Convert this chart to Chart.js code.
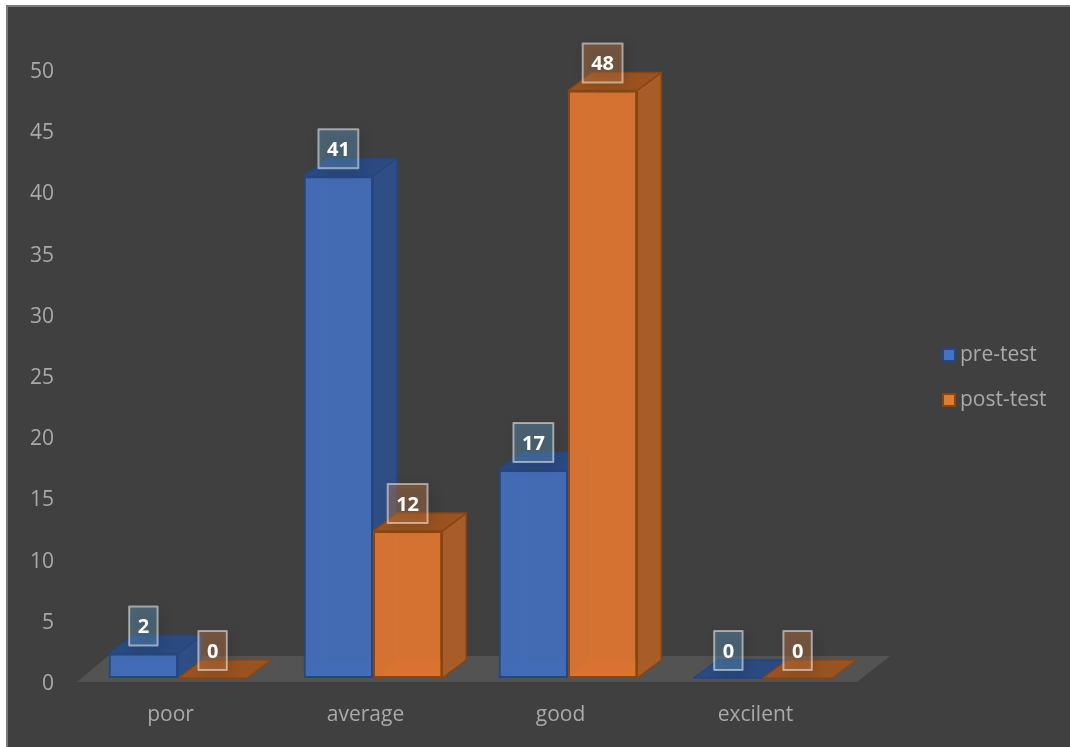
<!DOCTYPE html>
<html>
<head>
<meta charset="utf-8">
<script src="https://cdn.jsdelivr.net/npm/chart.js@4"></script>
<style>
html,body{margin:0;padding:0;background:#fff;overflow:hidden}
canvas{display:block}
</style>
</head>
<body>
<canvas id="chart" width="1070" height="747"></canvas>
<script>
const categories = ['poor', 'average', 'good', 'excilent'];
const preTest = [2, 41, 17, 0];
const postTest = [0, 12, 48, 0];

const TEXT = '#a9a9a9';
const FONT = '"Open Sans", sans-serif';
// Oblique depth of the pseudo-3D boxes and their shift from the axis frame.
const DEPTH_X = 24, DEPTH_Y = -18, SHIFT_X = 7.5, SHIFT_Y = -6;

const looks = [
  { front: 'rgba(66,108,184,0.97)', edge: '#254781', side: '#2f4e86', top: '#2b4a82', inner: '#3a62a8',
    swatch: '#4472c4', boxFill: 'rgba(96,150,190,0.42)' },
  { front: 'rgba(218,116,50,0.97)', edge: '#8a4510', side: '#a85c28', top: '#9a5320', inner: '#cc6e2c',
    swatch: '#e27a30', boxFill: 'rgba(190,120,70,0.42)' }
];

function poly(ctx, pts, fill, stroke, lw) {
  ctx.beginPath();
  pts.forEach((p, i) => i ? ctx.lineTo(p[0], p[1]) : ctx.moveTo(p[0], p[1]));
  ctx.closePath();
  if (fill) { ctx.fillStyle = fill; ctx.fill(); }
  if (stroke) { ctx.strokeStyle = stroke; ctx.lineWidth = lw || 2; ctx.lineJoin = 'round'; ctx.stroke(); }
}

// Small framed square used as the legend key.
function keySwatch(look) {
  const c = document.createElement('canvas');
  c.width = 14; c.height = 14;
  const g = c.getContext('2d');
  g.fillStyle = look.edge;
  g.fillRect(0, 0, 14, 14);
  g.fillStyle = look.swatch;
  g.fillRect(2, 2, 10, 10);
  return c;
}
const swatches = looks.map(keySwatch);

const depthBoxes = {
  id: 'depthBoxes',
  beforeLayout(chart) {
    const legend = chart.legend;
    if (legend && !legend.__sized) {
      const fit = legend.fit;
      legend.fit = function () { fit.call(this); this.width = 217; };
      legend.__sized = true;
    }
  },
  afterLayout(chart) {
    chart.legend.left = 924.5;
    chart.legend.top = 8;
    chart.legend.bottom = 747;
  },
  beforeDraw(chart) {
    const ctx = chart.ctx;
    ctx.save();
    ctx.fillStyle = '#fff';
    ctx.fillRect(0, 0, 1070, 747);
    ctx.fillStyle = '#404040';
    ctx.fillRect(6, 5, 1064, 742);
    ctx.fillStyle = '#7a7a7a';
    ctx.fillRect(6, 5, 1064, 2);
    ctx.fillRect(6, 5, 2, 742);
    ctx.restore();
  },
  beforeDatasetsDraw(chart) {
    const ctx = chart.ctx;
    const { left, right } = chart.chartArea;
    const baseY = chart.scales.y.getPixelForValue(0);
    ctx.save();
    ctx.translate(SHIFT_X, SHIFT_Y);
    // Floor plate under all boxes
    poly(ctx, [
      [left - 3.5, baseY + 4], [right - 3.5, baseY + 4],
      [right + 29.5, baseY - 22], [left + 27.5, baseY - 22]
    ], '#545353');
    categories.forEach((_, c) => {
      [0, 1].forEach(s => {
        const bar = chart.getDatasetMeta(s).data[c];
        const look = looks[s];
        const x0 = bar.x - bar.width / 2, x1 = bar.x + bar.width / 2;
        const yT = bar.y, yB = bar.base;
        // Hidden back edges, seen faintly through the front face
        poly(ctx, [[x0, yB], [x1, yB], [x1 + DEPTH_X, yB + DEPTH_Y], [x0 + DEPTH_X, yB + DEPTH_Y]], look.inner);
        if (yB - yT > 1) {
          ctx.strokeStyle = look.inner;
          ctx.lineWidth = 1;
          ctx.beginPath();
          ctx.moveTo(x0 + DEPTH_X, yB + DEPTH_Y);
          ctx.lineTo(x0 + DEPTH_X, yT);
          ctx.stroke();
          // Right side face
          poly(ctx, [[x1, yT], [x1 + DEPTH_X, yT + DEPTH_Y], [x1 + DEPTH_X, yB + DEPTH_Y], [x1, yB]], look.side, look.edge, 1.5);
        }
        // Top face
        poly(ctx, [[x0, yT], [x1, yT], [x1 + DEPTH_X, yT + DEPTH_Y], [x0 + DEPTH_X, yT + DEPTH_Y]], look.top, look.edge, 1.5);
      });
    });
  },
  afterDatasetsDraw(chart) {
    const ctx = chart.ctx;
    // Value tags above every box
    [preTest, postTest].forEach((values, s) => {
      values.forEach((v, c) => {
        const bar = chart.getDatasetMeta(s).data[c];
        const text = String(v);
        ctx.font = 'bold 20px ' + FONT;
        const w = ctx.measureText(text).width + 17, h = 39;
        const cx = bar.x, cy = bar.y - 27.5;
        ctx.save();
        ctx.shadowColor = 'rgba(0,0,0,0.35)';
        ctx.shadowBlur = 12;
        ctx.shadowOffsetX = 3;
        ctx.shadowOffsetY = 3;
        ctx.fillStyle = looks[s].boxFill;
        ctx.fillRect(cx - w / 2, cy - h / 2, w, h);
        ctx.restore();
        ctx.strokeStyle = 'rgba(255,255,255,0.5)';
        ctx.lineWidth = 2;
        ctx.strokeRect(cx - w / 2, cy - h / 2, w, h);
        ctx.fillStyle = '#fff';
        ctx.textAlign = 'center';
        ctx.textBaseline = 'middle';
        ctx.fillText(text, cx, cy + 1.5);
      });
    });
    ctx.restore();
  }
};

new Chart(document.getElementById('chart'), {
  type: 'bar',
  plugins: [depthBoxes],
  data: {
    labels: categories,
    datasets: [
      { label: 'pre-test', data: preTest, backgroundColor: looks[0].front, borderColor: looks[0].edge },
      { label: 'post-test', data: postTest, backgroundColor: looks[1].front, borderColor: looks[1].edge }
    ]
  },
  options: {
    responsive: false,
    animation: false,
    layout: { padding: { top: 72, left: 0, right: 0, bottom: 0 } },
    datasets: {
      bar: { borderWidth: 2, borderSkipped: false, categoryPercentage: 0.71, barPercentage: 1 }
    },
    scales: {
      x: {
        grid: { display: false, drawTicks: false },
        border: { display: false },
        ticks: { color: TEXT, font: { family: FONT, size: 21 }, padding: 18, maxRotation: 0 },
        afterFit(scale) { scale.height = 63; }
      },
      y: {
        min: 0,
        max: 50,
        grid: { display: false, drawTicks: false },
        border: { display: false },
        ticks: { stepSize: 5, color: TEXT, font: { family: FONT, size: 21 }, padding: 19 },
        afterFit(scale) { scale.width = 73; }
      }
    },
    plugins: {
      tooltip: { enabled: false },
      legend: {
        position: 'right',
        align: 'center',
        labels: {
          color: TEXT,
          font: { family: FONT, size: 21 },
          usePointStyle: true,
          pointStyleWidth: 1,
          boxHeight: 14,
          padding: 24,
          generateLabels(chart) {
            return chart.data.datasets.map((d, i) => ({
              text: d.label, datasetIndex: i, pointStyle: swatches[i], fontColor: TEXT
            }));
          }
        }
      }
    }
  }
});
</script>
</body>
</html>
